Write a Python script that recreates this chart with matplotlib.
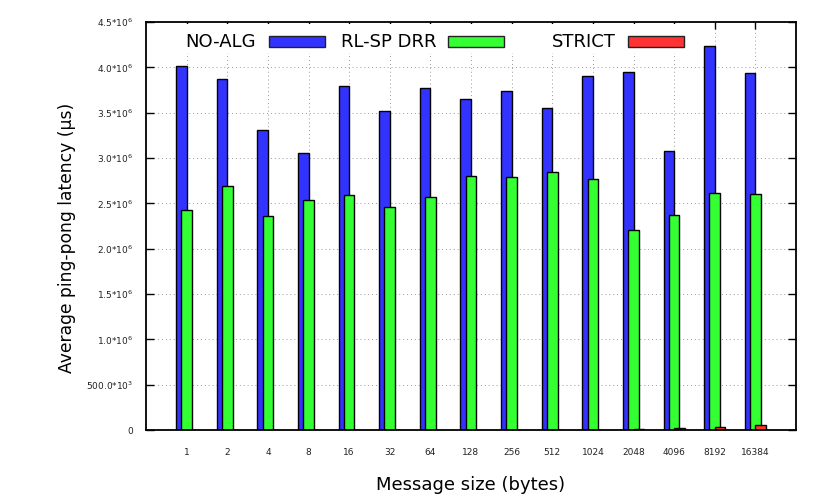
import matplotlib
matplotlib.use("Agg")
import matplotlib.pyplot as plt
from matplotlib.patches import Rectangle
import numpy as np

# message sizes (bytes)
sizes = ["1", "2", "4", "8", "16", "32", "64", "128", "256", "512",
         "1024", "2048", "4096", "8192", "16384"]

# average ping-pong latency (us)
no_alg = [4.015e6, 3.868e6, 3.305e6, 3.051e6, 3.794e6, 3.515e6, 3.768e6, 3.647e6,
          3.742e6, 3.555e6, 3.904e6, 3.948e6, 3.073e6, 4.235e6, 3.937e6]
rlsp_drr = [2.426e6, 2.695e6, 2.360e6, 2.533e6, 2.592e6, 2.459e6, 2.570e6, 2.805e6,
            2.794e6, 2.849e6, 2.765e6, 2.206e6, 2.375e6, 2.617e6, 2.603e6]
strict = [3e3, 3e3, 3e3, 3e3, 3e3, 3e3, 3e3, 3e3,
          3e3, 3e3, 4e3, 10e3, 18e3, 33e3, 55e3]

series_names = ["NO-ALG", "RL-SP DRR", "STRICT"]
colors = ["#3333ff", "#33ff33", "#ff3333"]

yticks = np.arange(0, 4.51e6, 0.5e6)
ytick_labels = ["0", r"500.0*10$^{3}$", r"1.0*10$^{6}$", r"1.5*10$^{6}$", r"2.0*10$^{6}$",
                r"2.5*10$^{6}$", r"3.0*10$^{6}$", r"3.5*10$^{6}$", r"4.0*10$^{6}$",
                r"4.5*10$^{6}$"]

W, H = 830, 498
fig = plt.figure(figsize=(W / 100, H / 100), dpi=100)
ax = fig.add_axes([146 / W, 1 - 430 / H, (796 - 146) / W, (430 - 22) / H])

x = np.arange(len(sizes))
bw = 0.26
for i, (vals, col) in enumerate(zip([no_alg, rlsp_drr, strict], colors)):
    ax.bar(x + (i - 1) * 0.13, vals, width=bw, color=col, edgecolor="black",
           linewidth=1.0, zorder=2 + i)

ax.set_xlim(-1, 15)
ax.set_ylim(0, 4.5e6)
ax.set_xticks(x)
ax.set_xticklabels(sizes, fontsize=6.5, color="#222222")
ax.set_yticks(yticks)
ax.set_yticklabels(ytick_labels, fontsize=6.5, color="#222222")

ax.set_axisbelow(True)
ax.grid(True, color="#999999", linestyle=(0, (1, 3)), linewidth=0.7)
ax.tick_params(axis="x", direction="in", top=True, bottom=True, length=5,
               width=1, pad=13)
ax.tick_params(axis="y", direction="in", left=True, right=True, length=6,
               width=1, pad=9)
for s in ax.spines.values():
    s.set_linewidth(1.3)
    s.set_zorder(10)

# key box (white, covers grid) with entries
ax.add_patch(Rectangle((0.045, 0.925), 0.8, 0.07, transform=ax.transAxes,
                       facecolor="white", edgecolor="none", zorder=1))
text_right = [256, 436, 616]
box_left = [269, 448, 627.5]
for name, col, tr, bl in zip(series_names, colors, text_right, box_left):
    fig.text(tr / W, 1 - 42 / H, name, ha="right", va="center", fontsize=13)
    fig.patches.append(Rectangle((bl / W, 1 - 47 / H), 56 / W, 11 / H,
                                 transform=fig.transFigure, facecolor=col,
                                 edgecolor="#222222", linewidth=1.0))

fig.text(471 / W, 1 - 485 / H, "Message size (bytes)", ha="center", va="center",
         fontsize=13)
fig.text(67 / W, 1 - 238 / H, "Average ping-pong latency (µs)", ha="center",
         va="center", rotation=90, fontsize=12.3)

fig.savefig("out.png", dpi=100)
